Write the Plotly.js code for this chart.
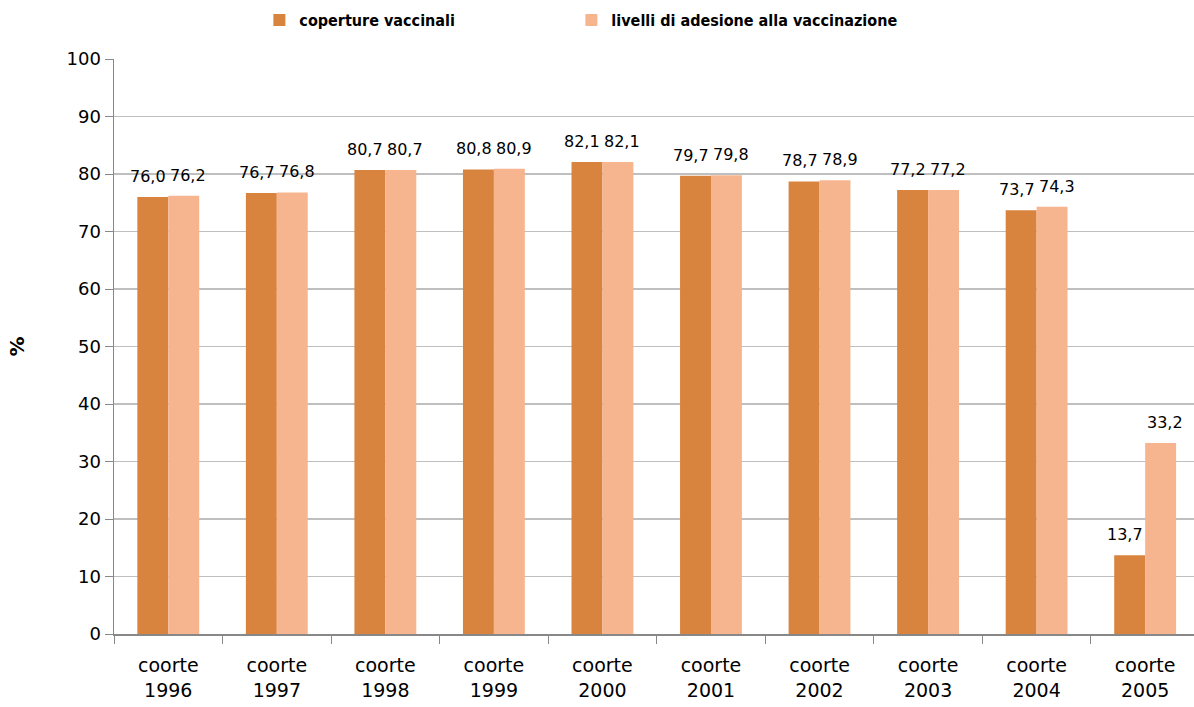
<!DOCTYPE html>
<html><head><meta charset="utf-8">
<script src="https://cdn.plot.ly/plotly-3.0.1.min.js"></script>
<style>html,body{margin:0;padding:0;background:#fff;overflow:hidden}</style>
</head><body><div id="chart" style="width:1194px;height:707px"></div>
<script>
const categories = ["coorte<br>1996","coorte<br>1997","coorte<br>1998","coorte<br>1999","coorte<br>2000","coorte<br>2001","coorte<br>2002","coorte<br>2003","coorte<br>2004","coorte<br>2005"];
const coperture = [76.0, 76.7, 80.7, 80.8, 82.1, 79.7, 78.7, 77.2, 73.7, 13.7];
const adesione = [76.2, 76.8, 80.7, 80.9, 82.1, 79.8, 78.9, 77.2, 74.3, 33.2];
const yTicks = [0,10,20,30,40,50,60,70,80,90,100];
const fmt = v => v.toFixed(1).replace('.', ',');
const labelFont = {family: "DejaVu Sans", size: 16, color: "#000"};
const traces = [
  {type:'bar', name:'coperture vaccinali', x:categories, y:coperture,
   marker:{color:'#D9843E'}, hoverinfo:'skip', legendwidth:267},
  {type:'bar', name:'livelli di adesione alla vaccinazione', x:categories, y:adesione,
   marker:{color:'#F7B58F'}, hoverinfo:'skip'}
];
function labels(vals, dx) {
  return vals.map((v, i) => ({x: categories[i], y: v, xref:'x', yref:'y', text: fmt(v),
    showarrow:false, xanchor:'center', yanchor:'bottom', xshift: dx, yshift: 9,
    font: labelFont}));
}
const layout = {
  width:1194, height:707,
  margin:{l:114, r:0, t:59, b:73},
  paper_bgcolor:'#fff', plot_bgcolor:'#fff',
  barmode:'group', bargap:0.43, bargroupgap:0,
  showlegend:true,
  legend:{orientation:'h', x:0.1346, xanchor:'left', y:1.0678, yanchor:'middle',
    font:{family:"DejaVu Sans Condensed, DejaVu Sans", size:16, color:'#000', weight:'bold'}},
  annotations: labels(coperture, -20).concat(labels(adesione, 20)),
  xaxis:{type:'category', range:[-0.5, 9.45], tickson:'boundaries', ticks:'outside', ticklen:8,
    tickcolor:'#888', showline:true, linecolor:'#888', linewidth:1.5, showgrid:false,
    ticklabelstandoff:14,
    tickfont:{family:"DejaVu Sans", size:19, color:'#000'}, fixedrange:true},
  yaxis:{range:[0,100], tickvals:yTicks, ticks:'outside', ticklen:8, tickcolor:'#888',
    showline:true, linecolor:'#888', linewidth:1.5, gridcolor:'#BFBFBF', gridwidth:1.5,
    zeroline:false,
    tickfont:{family:"DejaVu Sans", size:18, color:'#000'},
    title:{text:'<b>%</b>', font:{family:"DejaVu Sans", size:20, color:'#000'}, standoff:36}, fixedrange:true}
};
Plotly.newPlot('chart', traces, layout, {displayModeBar:false, staticPlot:true});
</script></body></html>
